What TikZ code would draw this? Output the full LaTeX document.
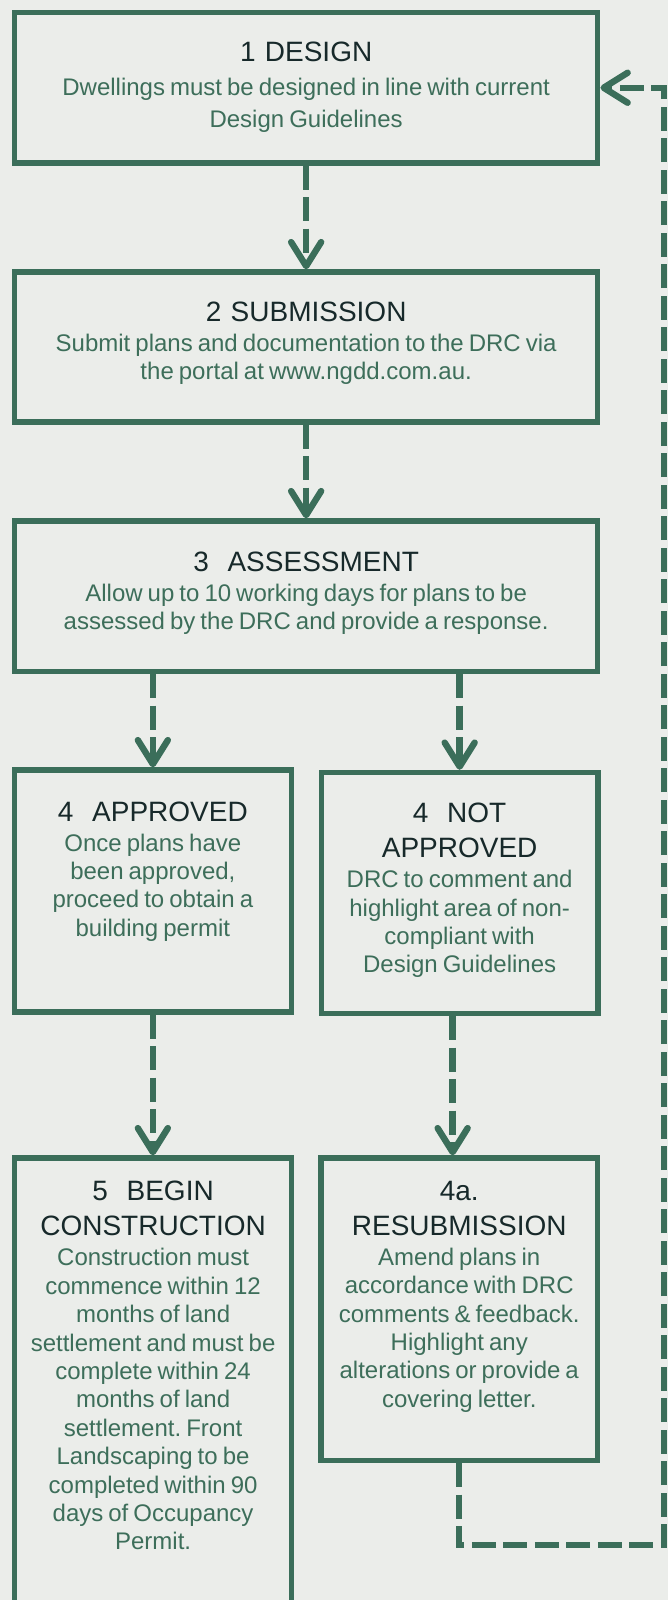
\documentclass[tikz,border=0pt]{standalone}
\usepackage{fontspec}
\setmainfont{Liberation Sans}
\usetikzlibrary{arrows.meta,positioning}

\definecolor{boxline}{HTML}{3B6E5A}
\definecolor{bodytext}{HTML}{3D6E5A}
\definecolor{titletext}{HTML}{17292A}
\definecolor{pagebg}{HTML}{EBEDEA}

% body text under a step title
\newcommand{\stepbody}[2][14.2]{\par\vspace{0.8pt}{\fontsize{12}{#1}\selectfont\frenchspacing\spaceskip=0.21em\color{bodytext}#2\par}}

\tikzset{
  widebox/.style={rectangle, draw=boxline, line width=2.7pt, text width=285pt, minimum width=291.6pt, inner xsep=0pt, inner ysep=0pt, align=center, font=\fontsize{14}{17.6}\selectfont, text=titletext},
  narrowbox/.style={widebox, text width=134pt, minimum width=138.4pt},
  flow/.style={draw=boxline, line width=3.2pt, dash pattern=on 12pt off 3.75pt, -{Straight Barb[length=12pt, width=15pt, round]}}
}

\begin{document}
\begin{tikzpicture}[x=0.5pt, y=-0.5pt]

% Page
\path[fill=pagebg, use as bounding box] (0,0) rectangle (668,1600);
\clip (0,0) rectangle (668,1600);

% Main column
\node[widebox, text height=24.5pt, text depth=50.75pt] (design) at (306.15,87.75)
  {1 DESIGN\stepbody[16]{Dwellings must be designed in line with current\\Design Guidelines}};
\node[widebox, text height=24.5pt, text depth=50.5pt] (submit) at (306.15,347)
  {2 SUBMISSION\stepbody{Submit plans and documentation to the DRC via\\the portal at www.ngdd.com.au.}};
\node[widebox, text height=25pt, text depth=50.25pt] (assess) at (306.15,596.25)
  {3~~ASSESSMENT\stepbody{Allow up to 10 working days for plans to be\\assessed by the DRC and provide a response.}};

% Outcomes
\node[narrowbox, text height=25.5pt, text depth=95.5pt] (approved) at (152.85,891)
  {4~~APPROVED\stepbody{Once plans have\\been approved,\\proceed to obtain a\\building permit}};
\node[narrowbox, text height=25pt, text depth=95.5pt] (notappr) at (459.65,893)
  {4~~NOT\\APPROVED\stepbody{DRC to comment and\\highlight area of non-\\compliant with\\Design Guidelines}};

% Next steps
\node[narrowbox, text height=21.3pt, text depth=229.7pt] (construct) at (153.1,1409)
  {5~~BEGIN\\CONSTRUCTION\stepbody{Construction must\\commence within 12\\months of land\\settlement and must be\\complete within 24\\months of land\\settlement. Front\\Landscaping to be\\completed within 90\\days of Occupancy\\Permit.}};
\node[narrowbox, text height=21pt, text depth=130.25pt] (resub) at (459.25,1309.25)
  {4a.\\RESUBMISSION\stepbody{Amend plans in\\accordance with DRC\\comments \& feedback.\\Highlight any\\alterations or provide a\\covering letter.}};

% Draw arrows
\draw[flow] (design) -- (submit);
\draw[flow] (submit) -- (assess);
\foreach \n in {approved,notappr} {
  \draw[flow] (\n.north |- assess.south) -- (\n.north);
}
\draw[flow] (approved.south) -- (approved.south |- construct.north);
\draw[flow] ([xshift=-3.5pt]notappr.south) -- ([xshift=-3.5pt]notappr.south |- resub.north);

% Back to design
\coordinate (fbturn) at (664,1545);
\draw[flow] (resub.south) |- (fbturn) |- (design.east);

\end{tikzpicture}
\end{document}
